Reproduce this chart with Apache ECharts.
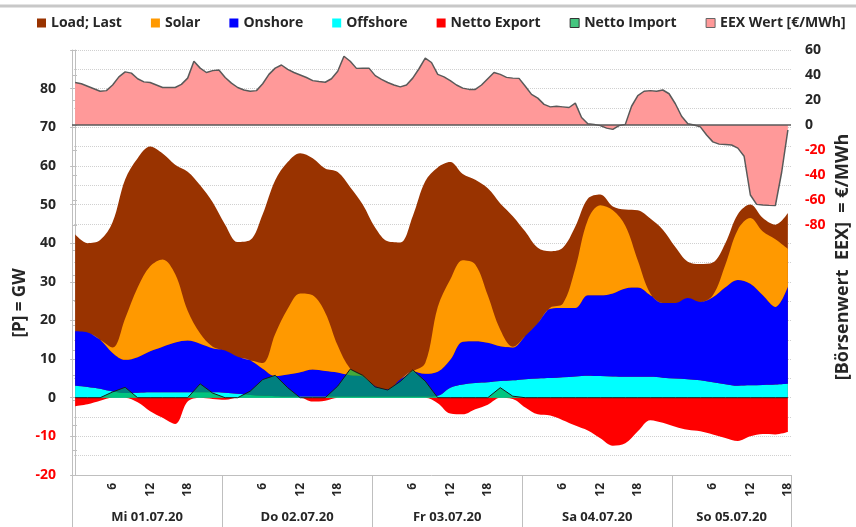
<!DOCTYPE html>
<html>
<head>
<meta charset="utf-8">
<script src="https://cdn.jsdelivr.net/npm/echarts@6/dist/echarts.min.js"></script>
<style>html,body{margin:0;padding:0;background:#fff;}#c{width:856px;height:527px;}</style>
</head>
<body>
<div id="c"></div>
<script>
// ---- data (GW, every 2 hours from Mi 01.07.20 00:00) ----
const hours = [
  0, 2, 4, 6, 8, 10, 12, 14, 16, 18, 20, 22,
  24, 26, 28, 30, 32, 34, 36, 38, 40, 42, 44, 46,
  48, 50, 52, 54, 56, 58, 60, 62, 64, 66, 68, 70,
  72, 74, 76, 78, 80, 82, 84, 86, 88, 90, 92, 94,
  96, 98, 100, 102, 104, 106, 108, 110, 112, 114
];
const load = [
  42.3, 40.0, 40.8, 45.5, 56.5, 62.0, 65.0, 63.2, 60.3, 58.5, 55.0, 50.6,
  44.8, 40.3, 40.8, 47.5, 56.3, 61.0, 63.3, 62.0, 59.3, 58.4, 54.5, 50.0,
  44.0, 40.5, 40.2, 47.0, 56.0, 59.6, 61.0, 57.9, 56.4, 54.2, 50.3, 47.0,
  43.0, 38.8, 37.9, 38.8, 44.3, 51.5, 52.6, 49.5, 48.7, 48.5, 46.4, 43.5,
  39.0, 35.2, 34.6, 35.0, 40.0, 47.5, 50.0, 46.5, 44.8, 47.8
];
const offshore = [
  3.1, 2.8, 2.3, 1.6, 1.2, 1.3, 1.4, 1.4, 1.4, 1.4, 1.4, 1.4,
  1.3, 1.0, 0.7, 0.5, 0.4, 0.3, 0.3, 0.3, 0.3, 0.3, 0.3, 0.3,
  0.3, 0.3, 0.3, 0.3, 0.3, 0.5, 2.6, 3.4, 3.8, 4.0, 4.3, 4.5,
  4.8, 5.0, 5.1, 5.3, 5.5, 5.7, 5.6, 5.5, 5.4, 5.4, 5.4, 5.2,
  5.0, 4.8, 4.5, 4.0, 3.5, 3.1, 3.2, 3.3, 3.4, 3.6
];
const onshore = [
  14.1, 14.1, 12.7, 10.0, 8.6, 9.2, 10.6, 11.8, 12.9, 13.4, 12.6, 11.4,
  10.9, 9.6, 9.0, 7.0, 5.2, 5.7, 6.3, 7.0, 6.6, 6.2, 5.5, 5.2,
  2.7, 1.9, 4.4, 6.5, 5.9, 6.2, 7.2, 11.1, 10.8, 10.2, 9.0, 8.5,
  11.2, 14.3, 17.9, 17.9, 17.7, 20.8, 20.9, 21.5, 22.9, 23.1, 21.1, 19.3,
  19.5, 21.0, 20.3, 22.0, 25.1, 27.4, 26.3, 23.2, 20.1, 25.2
];
const solar = [
  0, 0, 0, 1.4, 10.7, 18.0, 22.0, 22.6, 17.7, 7.7, 2.6, 0.4,
  0, 0, 0, 1.5, 10.9, 17.0, 20.4, 19.2, 15.1, 7.0, 1.7, 0,
  0, 0, 0, 0, 2.8, 16.8, 20.8, 21.1, 19.9, 12.3, 4.3, 0.2,
  0, 0, 0.3, 1.1, 10.3, 19.5, 23.3, 21.5, 16.2, 7.0, 0.5, 0,
  0, 0, 0, 0.5, 5.8, 13.0, 17.0, 16.5, 17.5, 9.7
];
const nettoExport = [
  -2.2, -1.7, -0.8, 0, 0, -1.2, -3.5, -5.2, -6.8, -1.0, 0, -0.3,
  -0.5, 0, 0, 0, 0, 0, 0, -1.0, -0.8, 0, 0, 0,
  0, 0, 0, 0, 0, -1.4, -4.1, -4.3, -3.0, -1.8, 0, -0.3,
  -2.5, -4.3, -4.6, -5.8, -7.2, -8.5, -10.5, -12.4, -11.8, -8.7, -5.8, -6.5,
  -7.5, -8.3, -8.7, -9.5, -10.4, -11.2, -10.0, -9.4, -9.5, -8.9
];
const nettoImport = [
  0, 0, 0, 1.5, 2.7, 0, 0, 0, 0, 0, 3.6, 1.2,
  0, 0, 1.7, 4.7, 5.8, 2.6, 0, 0, 0, 3.0, 7.4, 5.8,
  2.8, 2.0, 4.2, 7.2, 4.3, 0, 0, 0, 0, 0, 2.6, 0.4,
  0, 0, 0, 0, 0, 0, 0, 0, 0, 0, 0, 0,
  0, 0, 0, 0, 0, 0, 0, 0, 0, 0
];
// ---- EEX price (€/MWh), hourly ----
const hourly = [
  0, 1, 2, 3, 4, 5, 6, 7, 8, 9, 10, 11, 12, 13, 14, 15, 16, 17, 18, 19, 20, 21, 22, 23,
  24, 25, 26, 27, 28, 29, 30, 31, 32, 33, 34, 35, 36, 37, 38, 39, 40, 41, 42, 43, 44, 45, 46, 47,
  48, 49, 50, 51, 52, 53, 54, 55, 56, 57, 58, 59, 60, 61, 62, 63, 64, 65, 66, 67, 68, 69, 70, 71,
  72, 73, 74, 75, 76, 77, 78, 79, 80, 81, 82, 83, 84, 85, 86, 87, 88, 89, 90, 91, 92, 93, 94, 95,
  96, 97, 98, 99, 100, 101, 102, 103, 104, 105, 106, 107, 108, 109, 110, 111, 112, 113, 114
];
const eex = [
  34, 33, 31, 29, 27, 27.5, 32, 38.5, 42.5, 41.5, 37, 34.5,
  34, 32, 30, 30, 30, 32.5, 37.5, 51, 45.5, 42, 43.5, 44,
  38, 33.5, 30, 28, 27, 27.5, 33, 40.5, 45.5, 48, 44.5, 42,
  40, 38, 35.5, 34.8, 34.2, 37, 43, 55, 51, 45.3, 45.5, 45.5,
  39.5, 36.5, 34, 32, 30.5, 32, 37.5, 45, 53.5, 50, 40.5, 38.5,
  35.5, 32, 29.5, 28.5, 28.5, 32, 37, 42, 40.5, 38.1, 37.5, 37.3,
  31, 24.5, 21.5, 16.5, 14.5, 15, 14.5, 14, 17.5, 6, 1, 0.5,
  -0.5, -2.5, -3.5, -0.5, 0.5, 15, 23.5, 27, 27.5, 27, 28, 25,
  17, 7, 1, 0, -1.5, -8, -13.5, -15.3, -15.6, -16, -18.5, -25,
  -56, -63.5, -64, -64.3, -64.5, -38, -4
];
const hourTicks = ['6', '12', '18'];
const days = ['Mi 01.07.20', 'Do 02.07.20', 'Fr 03.07.20', 'Sa 04.07.20', 'So 05.07.20'];
const totalHours = 115;

// ---- chart ----
const FONT = '"Open Sans", "Liberation Sans", sans-serif';
const TXT = '#262626';
const GRID = '#D0D0D0';
const AX = '#BFBFBF';
const pair = (xs, ys) => xs.map((x, i) => [x, ys[i]]);
// value first so that ECharts stacks on the value (y) dimension
const stackPair = (ys, xs) => ys.map((y, i) => [y, xs[i]]);
const dayCenters = days.map((d, i) => i * 24 + Math.min(24, totalHours - i * 24) / 2);

function stackedArea(name, values, color) {
  return {
    name, type: 'line', stack: 'gen',
    dimensions: ['v', 'h'], encode: {x: 'h', y: 'v'},
    data: stackPair(values, hours), symbol: 'none', smooth: 0.35,
    itemStyle: {color}, lineStyle: {width: 0}, areaStyle: {color, opacity: 1}
  };
}

const chart = echarts.init(document.getElementById('c'), null, {renderer: 'canvas'});
const option = {
  animation: false,
  backgroundColor: '#ffffff',
  textStyle: {fontFamily: FONT},
  grid: {left: 72, right: 65, top: 50, bottom: 52, containLabel: false},
  legend: {
    left: 32, top: 11, icon: 'rect', itemWidth: 9, itemHeight: 9, itemGap: 29,
    textStyle: {fontFamily: FONT, fontWeight: 'bold', fontSize: 14, color: TXT},
    data: [
      {name: 'Load; Last', itemStyle: {color: '#993300'}},
      {name: 'Solar', itemStyle: {color: '#FF9900'}},
      {name: 'Onshore', itemStyle: {color: '#0000FF'}},
      {name: 'Offshore', itemStyle: {color: '#00FFFF'}},
      {name: 'Netto Export', itemStyle: {color: '#FF0000'}},
      {name: 'Netto Import', itemStyle: {color: '#45C57F', borderColor: '#333', borderWidth: 1}},
      {name: 'EEX Wert [€/MWh]', itemStyle: {color: '#FF9999', borderColor: '#666', borderWidth: 1}}
    ]
  },
  xAxis: [
    { // data axis
      type: 'value', min: -0.5, max: totalHours - 0.5,
      axisLine: {show: true, onZero: false, lineStyle: {color: AX}},
      axisTick: {show: false}, axisLabel: {show: false}, splitLine: {show: false}
    },
    { // hour labels
      type: 'category', data: hourly.map(String), boundaryGap: true, position: 'bottom',
      axisLine: {show: false}, axisTick: {show: false}, splitLine: {show: false},
      axisLabel: {
        interval: 0, rotate: 90, margin: 8, fontFamily: FONT, fontWeight: 'bold', fontSize: 12, color: TXT,
        formatter: v => { const r = String(Number(v) % 24); return hourTicks.includes(r) ? r : ''; }
      }
    },
    { // day labels
      type: 'value', min: 0, max: totalHours, interval: 0.5, position: 'bottom',
      axisLine: {show: false}, axisTick: {show: false}, splitLine: {show: false},
      axisLabel: {
        margin: 36, fontFamily: FONT, fontWeight: 'bold', fontSize: 13, color: TXT,
        showMinLabel: true, showMaxLabel: true,
        formatter: v => { const i = dayCenters.indexOf(v); return i >= 0 ? days[i] : ''; }
      }
    },
    { // day separators
      type: 'value', min: 0, max: totalHours, interval: 24, position: 'bottom',
      axisLine: {show: false}, splitLine: {show: false}, axisLabel: {show: false},
      axisTick: {show: true, inside: false, length: 54, lineStyle: {color: AX, width: 1}}
    }
  ],
  yAxis: [
    {
      type: 'value', min: -20, max: 90, interval: 10, position: 'left',
      axisLine: {show: true, lineStyle: {color: AX}},
      axisTick: {show: true, length: 5, lineStyle: {color: AX}},
      axisLabel: {
        margin: 16, fontFamily: FONT, fontWeight: 'bold', fontSize: 14,
        color: v => (Number(v) < 0 ? '#FF0000' : TXT),
        formatter: v => (v >= 90 ? '' : String(v))
      },
      splitLine: {show: true, lineStyle: {color: GRID, type: 'dotted', width: 1}},
      minorTick: {show: false, splitNumber: 2},
      minorSplitLine: {show: true, lineStyle: {color: GRID, type: 'dotted', width: 1}}
    },
    {
      type: 'value', min: -280, max: 60, interval: 20, position: 'right',
      axisLine: {show: true, lineStyle: {color: AX}},
      axisTick: {show: true, length: 5, lineStyle: {color: AX}},
      axisLabel: {
        margin: 14, fontFamily: FONT, fontWeight: 'bold', fontSize: 14,
        color: v => (Number(v) < 0 ? '#FF0000' : TXT),
        formatter: v => (v < -80 ? '' : String(v))
      },
      splitLine: {show: false}
    }
  ],
  series: [
    {
      name: 'EEX Wert [€/MWh]', type: 'line', yAxisIndex: 1, data: pair(hourly, eex),
      symbol: 'none', smooth: false,
      itemStyle: {color: '#FF9999'},
      lineStyle: {color: '#595959', width: 1.5},
      areaStyle: {color: '#FF9999', opacity: 1},
      markLine: {
        silent: true, symbol: 'none', label: {show: false},
        lineStyle: {color: '#595959', width: 1.5, type: 'solid'},
        data: [{yAxis: 0}]
      }
    },
    {
      name: 'Load; Last', type: 'line', data: pair(hours, load), symbol: 'none', smooth: 0.35,
      itemStyle: {color: '#993300'}, lineStyle: {width: 0}, areaStyle: {color: '#993300', opacity: 1}
    },
    stackedArea('Offshore', offshore, '#00FFFF'),
    stackedArea('Onshore', onshore, '#0000FF'),
    stackedArea('Solar', solar, '#FF9900'),
    {
      name: 'Netto Export', type: 'line', data: pair(hours, nettoExport), symbol: 'none', smooth: 0.35,
      itemStyle: {color: '#FF0000'}, lineStyle: {width: 0}, areaStyle: {color: '#FF0000', opacity: 1}
    },
    {
      name: 'Netto Import', type: 'line', data: pair(hours, nettoImport), symbol: 'none', smooth: false,
      itemStyle: {color: 'rgba(0,176,80,0.73)'}, lineStyle: {color: '#1a1a1a', width: 1},
      areaStyle: {color: 'rgba(0,176,80,0.73)', opacity: 1}
    }
  ],
  graphic: [
    {type: 'line', silent: true, shape: {x1: 0, y1: 6, x2: 856, y2: 6}, style: {stroke: '#C8C8C8', lineWidth: 3}},
    {type: 'text', x: 20, y: 303, rotation: Math.PI / 2,
     style: {text: '[P] = GW', fontFamily: FONT, fontWeight: 'bold', fontSize: 17, fill: TXT, align: 'center', verticalAlign: 'middle'}},
    {type: 'text', x: 843, y: 257, rotation: Math.PI / 2,
     style: {text: '[Börsenwert  EEX]  = €/MWh', fontFamily: FONT, fontWeight: 'bold', fontSize: 18, fill: TXT, align: 'center', verticalAlign: 'middle'}}
  ]
};
chart.setOption(option);
</script>
</body>
</html>
